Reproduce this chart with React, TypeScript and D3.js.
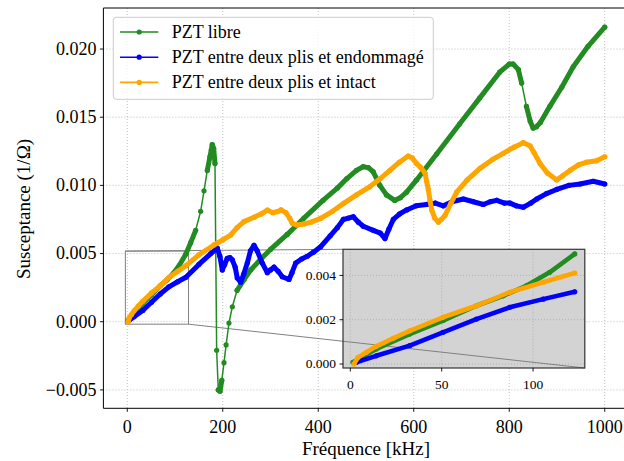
import React from "react";
import * as d3 from "d3";

// ---- data ----
const freqLibre = [1.5, 14.2, 32.5, 50.7, 69, 83.6, 96.3, 109.1, 122.8, 132.8, 143.2, 153.7, 160.7, 167.6, 173.2, 176, 178, 181, 183.7, 187.2, 190.6, 194.2, 198, 202.6, 207, 213, 220, 230, 245, 258.5, 280, 300, 335, 370, 410, 440, 460, 480, 494, 505, 515, 529, 543, 560, 572, 585, 606, 648, 696, 738, 780, 800, 808, 819, 826, 836, 844, 850, 857, 865, 885, 910, 934, 965, 1000];
const suscLibre = [0.00008, 0.00068, 0.00135, 0.00196, 0.00263, 0.00308, 0.00353, 0.00414, 0.00497, 0.0058, 0.0067, 0.0081, 0.0096, 0.0111, 0.0121, 0.0126, 0.013, 0.0127, 0.0116, -0.0021, -0.005, -0.0051, -0.0043, -0.003, -0.0017, -0.0001, 0.0011, 0.0023, 0.0031, 0.0038, 0.0046, 0.0053, 0.0064, 0.0076, 0.0089, 0.0098, 0.0105, 0.0111, 0.01137, 0.0113, 0.011, 0.01, 0.0093, 0.0089, 0.0091, 0.0095, 0.0104, 0.0123, 0.0145, 0.0164, 0.0183, 0.0189, 0.0189, 0.0185, 0.0175, 0.0158, 0.0147, 0.0142, 0.0143, 0.0146, 0.0158, 0.0172, 0.0187, 0.0202, 0.0216];

const freqEndo = [3.3, 14.2, 32.5, 50.7, 69, 87.2, 105.5, 122.8, 150, 175, 188.5, 194, 199, 204, 209.4, 215, 220, 226, 230.4, 237.5, 244, 251.4, 258, 265.4, 272, 282.8, 293.3, 300, 307.3, 316, 324.7, 338.7, 345, 352.7, 365, 377, 390, 405, 425, 440, 452.5, 463, 473.4, 484, 494.3, 515.3, 530, 539.8, 548, 557.2, 570, 585.3, 605, 627.2, 645, 662, 680, 703.8, 725, 745.7, 760, 773.8, 790, 801.6, 815, 829.5, 845, 857.6, 878, 899.4, 925, 948.3, 976, 1000];
const suscEndo = [0.00008, 0.00037, 0.00083, 0.00143, 0.00203, 0.00256, 0.00293, 0.00326, 0.0042, 0.005, 0.0054, 0.0048, 0.0038, 0.0042, 0.00465, 0.0047, 0.00453, 0.004, 0.0032, 0.0029, 0.0035, 0.0043, 0.0052, 0.0056, 0.0052, 0.0043, 0.0036, 0.0038, 0.004, 0.0037, 0.0033, 0.0031, 0.0036, 0.0043, 0.0046, 0.0048, 0.0051, 0.0055, 0.0063, 0.0069, 0.0075, 0.0076, 0.0077, 0.0073, 0.007, 0.0067, 0.0065, 0.0061, 0.0068, 0.0075, 0.0079, 0.0082, 0.0085, 0.0086, 0.0087, 0.0085, 0.0088, 0.009, 0.0088, 0.0086, 0.0088, 0.0089, 0.0087, 0.0087, 0.0085, 0.0084, 0.0087, 0.009, 0.0094, 0.0097, 0.01, 0.0101, 0.0103, 0.0101];

const freqIntact = [2, 4.2, 8.8, 14.2, 23.4, 32.5, 50.7, 69, 87.2, 105.5, 122.8, 150, 181.6, 200, 216.6, 230, 244.4, 265.4, 280, 293.3, 305, 314, 322, 332, 340, 345.6, 355, 370, 385, 405, 430, 454, 480, 508, 530, 550, 570, 588.6, 597, 606, 615, 623.6, 627, 630.5, 634, 637.6, 644, 651.5, 658, 665.5, 678, 690, 712, 738.8, 765, 787.6, 810, 829.5, 843.5, 852, 864.5, 880, 899.4, 912, 927.3, 945, 962.3, 983, 1000];
const suscIntact = [0, 0.0003, 0.00053, 0.0008, 0.00116, 0.0015, 0.00211, 0.00263, 0.00324, 0.00369, 0.00411, 0.0049, 0.00563, 0.006, 0.00636, 0.0069, 0.00734, 0.00766, 0.0079, 0.00819, 0.008, 0.00807, 0.0082, 0.008, 0.0076, 0.00722, 0.0071, 0.00717, 0.0073, 0.00758, 0.0081, 0.0087, 0.0093, 0.0099, 0.0105, 0.0111, 0.0117, 0.01215, 0.012, 0.0116, 0.0113, 0.0109, 0.0103, 0.0097, 0.0089, 0.0082, 0.0076, 0.0073, 0.0075, 0.0078, 0.0087, 0.0095, 0.0104, 0.01125, 0.0119, 0.01235, 0.0128, 0.01313, 0.0129, 0.0124, 0.0116, 0.0109, 0.0104, 0.0107, 0.0111, 0.0115, 0.0117, 0.0118, 0.0121];

const seriesNames = ["PZT libre", "PZT entre deux plis et endommagé", "PZT entre deux plis et intact"];
const seriesColors = ["#228b22", "#0000ff", "#ffa500"];

const xTicksMain = [0, 200, 400, 600, 800, 1000];
const yTicksMain = [-0.005, 0, 0.005, 0.01, 0.015, 0.02];
const xTicksInset = [0, 50, 100];
const yTicksInset = [0, 0.002, 0.004];
const insetMaxFreq = 123; // the inset shows only the first points of each sweep

const FONT = "'Liberation Serif', 'DejaVu Serif', serif";

const series = [
  { f: freqLibre, v: suscLibre },
  { f: freqEndo, v: suscEndo },
  { f: freqIntact, v: suscIntact },
];

// ---- scales ----
const xMain = d3.scaleLinear().domain([-50, 1050]).range([103.4, 628.6]);
const yMain = d3.scaleLinear().domain([-0.00635, 0.02301]).range([408.3, 8]);
const xIn = d3.scaleLinear().domain([-4, 128.3]).range([343, 584.8]);
const yIn = d3.scaleLinear().domain([-0.00018, 0.00518]).range([368, 249.3]);

const fmtMain = (v: number) => d3.format(".3f")(v).replace("-", "\u2212");

function Series({ f, v, color, xs, ys, thick, r }: any) {
  const pts: [number, number][] = f.map((fi: number, i: number) => [xs(fi), ys(v[i])]);
  const thin = d3.line()(pts) || "";
  let thickD = "";
  for (let i = 0; i < pts.length - 1; i++) {
    const [x1, y1] = pts[i];
    const [x2, y2] = pts[i + 1];
    const dx = Math.abs(x2 - x1);
    const dy = Math.abs(y2 - y1);
    const steep = dy > 3 * dx && dy > 15;
    if (!steep) thickD += `M${x1},${y1}L${x2},${y2}`;
  }
  return (
    <g>
      <path d={thin} fill="none" stroke={color} strokeWidth={1.5} />
      <path d={thickD} fill="none" stroke={color} strokeWidth={thick} strokeLinecap="round" strokeLinejoin="round" />
      {pts.map((p, i) => (
        <circle key={i} cx={p[0]} cy={p[1]} r={r} fill={color} />
      ))}
    </g>
  );
}

export default function App() {
  const mL = 103.4, mR = 628.6, mT = 8, mB = 408.3;
  const iL = xIn.range()[0], iR = xIn.range()[1], iT = yIn.range()[1], iB = yIn.range()[0];
  const rL = xMain(xIn.domain()[0]), rR = xMain(xIn.domain()[1]);
  const rT = yMain(yIn.domain()[1]), rB = yMain(yIn.domain()[0]);

  const insetSeries = series.map((s) => {
    const idx = s.f.map((_, i) => i).filter((i) => s.f[i] <= insetMaxFreq);
    return { f: idx.map((i) => s.f[i]), v: idx.map((i) => s.v[i]) };
  });

  const connectors = (
    <g stroke="#808080" strokeWidth={1} fill="none">
      <line x1={rL} y1={rT} x2={iL} y2={iT} />
      <line x1={rR} y1={rB} x2={iR} y2={iB} />
    </g>
  );

  return (
    <svg width={624} height={461} style={{ position: "absolute", left: 0, top: 0, background: "#fff" }} fontFamily={FONT}>
      <defs>
        <clipPath id="clipMain">
          <rect x={mL} y={mT} width={mR - mL} height={mB - mT} />
        </clipPath>
        <clipPath id="clipInset">
          <rect x={iL} y={iT} width={iR - iL} height={iB - iT} />
        </clipPath>
      </defs>
      <rect x={0} y={0} width={624} height={461} fill="#fff" />

      <g stroke="#b0b0b0" strokeWidth={0.8} strokeDasharray="1 2">
        {xTicksMain.map((t) => (
          <line key={"gx" + t} x1={xMain(t)} x2={xMain(t)} y1={mT} y2={mB} />
        ))}
        {yTicksMain.map((t) => (
          <line key={"gy" + t} x1={mL} x2={mR} y1={yMain(t)} y2={yMain(t)} />
        ))}
      </g>

      <rect x={rL} y={rT} width={rR - rL} height={rB - rT} fill="none" stroke="#808080" strokeWidth={1} />
      {connectors}

      <g clipPath="url(#clipMain)">
        {series.map((s, i) => (
          <Series key={i} f={s.f} v={s.v} color={seriesColors[i]} xs={xMain} ys={yMain} thick={5} r={2.6} />
        ))}
      </g>

      <g stroke="#000" strokeWidth={1} fill="none">
        <line x1={mL} y1={mT} x2={mR} y2={mT} />
        <line x1={mL} y1={mB} x2={mR} y2={mB} />
        <line x1={mL} y1={mT} x2={mL} y2={mB} />
        <line x1={mR} y1={mT} x2={mR} y2={mB} />
      </g>

      <g fontSize={18} fill="#000">
        {xTicksMain.map((t) => (
          <g key={"tx" + t}>
            <line x1={xMain(t)} x2={xMain(t)} y1={mB} y2={mB + 3.5} stroke="#000" strokeWidth={0.9} />
            <text x={xMain(t)} y={433} textAnchor="middle">{t}</text>
          </g>
        ))}
        {yTicksMain.map((t) => (
          <g key={"ty" + t}>
            <line x1={mL - 3.5} x2={mL} y1={yMain(t)} y2={yMain(t)} stroke="#000" strokeWidth={0.9} />
            <text x={mL - 7} y={yMain(t)} dy="0.33em" textAnchor="end">{fmtMain(t)}</text>
          </g>
        ))}
      </g>

      <text x={(mL + mR) / 2} y={455} textAnchor="middle" fontSize={19}>Fréquence [kHz]</text>
      <text transform="translate(30,209) rotate(-90)" textAnchor="middle" fontSize={19}>Susceptance (1/Ω)</text>

      <rect x={iL} y={iT} width={iR - iL} height={iB - iT} fill="#d3d3d3" />
      <g stroke="#a8a8a8" strokeWidth={0.8} strokeDasharray="1 2" clipPath="url(#clipInset)">
        {xTicksInset.map((t) => (
          <line key={"igx" + t} x1={xIn(t)} x2={xIn(t)} y1={iT} y2={iB} />
        ))}
        {yTicksInset.map((t) => (
          <line key={"igy" + t} x1={iL} x2={iR} y1={yIn(t)} y2={yIn(t)} />
        ))}
      </g>
      <g clipPath="url(#clipInset)">{connectors}</g>
      <g clipPath="url(#clipInset)">
        {insetSeries.map((s, i) => (
          <Series key={i} f={s.f} v={s.v} color={seriesColors[i]} xs={xIn} ys={yIn} thick={4.6} r={2.6} />
        ))}
      </g>
      <rect x={iL} y={iT} width={iR - iL} height={iB - iT} fill="none" stroke="#333" strokeWidth={1.2} />
      <g fontSize={13.5} fill="#000">
        {xTicksInset.map((t) => (
          <g key={"itx" + t}>
            <line x1={xIn(t)} x2={xIn(t)} y1={iB} y2={iB + 3.5} stroke="#000" strokeWidth={0.9} />
            <text x={xIn(t)} y={389} textAnchor="middle">{t}</text>
          </g>
        ))}
        {yTicksInset.map((t) => (
          <g key={"ity" + t}>
            <line x1={iL - 3.5} x2={iL} y1={yIn(t)} y2={yIn(t)} stroke="#000" strokeWidth={0.9} />
            <text x={iL - 7} y={yIn(t)} dy="0.33em" textAnchor="end">{d3.format(".3f")(t)}</text>
          </g>
        ))}
      </g>

      <rect x={113.3} y={17.3} width={320} height={82} rx={3} fill="#fff" fillOpacity={0.8} stroke="#cccccc" strokeWidth={1} />
      {seriesNames.map((name, i) => {
        const y = 32 + i * 25.2;
        return (
          <g key={name}>
            <line x1={120} x2={158.3} y1={y} y2={y} stroke={seriesColors[i]} strokeWidth={1.6} />
            <circle cx={139.2} cy={y} r={2.6} fill={seriesColors[i]} />
            <text x={171.7} y={y} dy="0.33em" fontSize={18} fill="#000">{name}</text>
          </g>
        );
      })}
    </svg>
  );
}
